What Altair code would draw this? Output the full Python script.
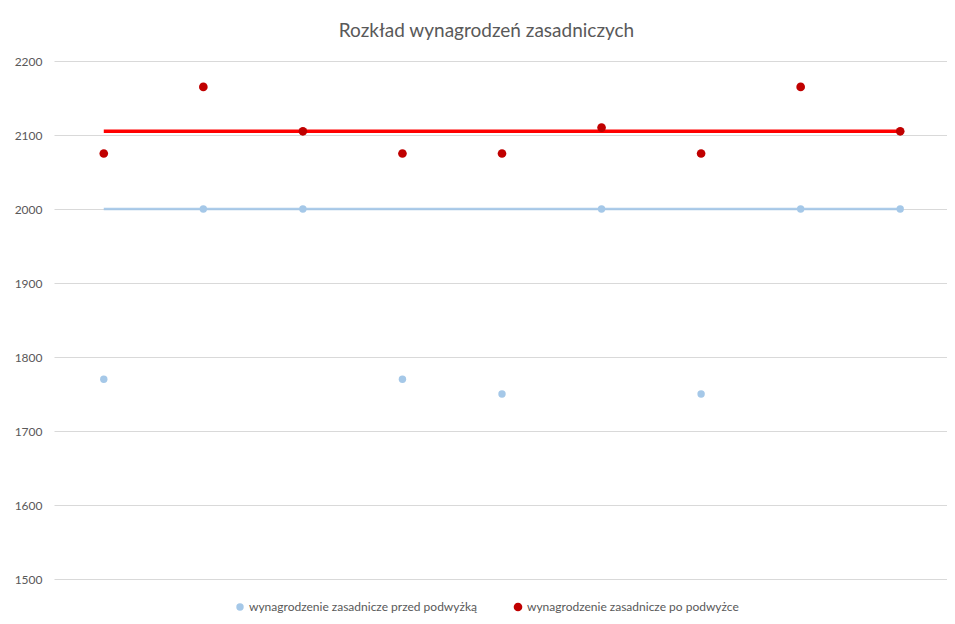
import altair as alt
import pandas as pd

# ---- data ----
idx = [1, 2, 3, 4, 5, 6, 7, 8, 9]
before = [1770, 2000, 2000, 1770, 1750, 2000, 1750, 2000, 2000]
after = [2075, 2165, 2105, 2075, 2075, 2110, 2075, 2165, 2105]
series = ["wynagrodzenie zasadnicze przed podwyżką", "wynagrodzenie zasadnicze po podwyżce"]
line_before = 2000
line_after = 2105
y_ticks = [1500, 1600, 1700, 1800, 1900, 2000, 2100, 2200]
title = "Rozkład wynagrodzeń zasadniczych"

FONT = "Lato"
GREY = "#595959"

pts = pd.DataFrame({
    "x": idx + idx,
    "y": before + after,
    "s": [series[0]] * len(idx) + [series[1]] * len(idx),
})
lb = pd.DataFrame({"x": [idx[0], idx[-1]], "y": [line_before, line_before]})
la = pd.DataFrame({"x": [idx[0], idx[-1]], "y": [line_after, line_after]})

xs = alt.Scale(domain=[0.5, 9.47], nice=False, zero=False)
ys = alt.Scale(domain=[1500, 2200], nice=False, zero=False)
yaxis = alt.Axis(values=y_ticks, title=None, ticks=False, domain=False, format="d",
                 labelFontSize=12, labelColor=GREY, labelFont=FONT, labelPadding=12,
                 gridColor="#d9d9d9", gridWidth=1)

base_x = alt.X("x:Q", scale=xs, axis=None)

line_b = alt.Chart(lb).mark_line(color="#9DC3E6", strokeWidth=2.5, opacity=0.85).encode(
    x=base_x, y=alt.Y("y:Q", scale=ys, axis=yaxis))
line_a = alt.Chart(la).mark_line(color="#FF0000", strokeWidth=3.5).encode(
    x=base_x, y=alt.Y("y:Q", scale=ys))

points = alt.Chart(pts).mark_circle(opacity=1).encode(
    x=base_x,
    y=alt.Y("y:Q", scale=ys),
    color=alt.Color("s:N", scale=alt.Scale(domain=series, range=["#A5C8E8", "#C00000"]),
                    legend=alt.Legend(title=None, orient="none", direction="horizontal",
                                      legendX=180, legendY=540, symbolSize=36,
                                      symbolType="circle", labelFontSize=12,
                                      labelColor=GREY, labelFont=FONT, labelLimit=400,
                                      labelOffset=3, columnPadding=35)),
    size=alt.Size("s:N", scale=alt.Scale(domain=series, range=[55, 75]), legend=None),
)

chart = alt.layer(line_b, line_a, points).properties(
    width=893, height=518,
    title=alt.TitleParams(title, fontSize=19, font=FONT, fontWeight="normal",
                          color=GREY, anchor="middle", dx=-14, offset=14),
    autosize=alt.AutoSizeParams(type="none"),
    padding={"left": 46, "top": 53, "right": 0, "bottom": 37},
).configure_view(stroke=None)

chart.save("out.html", embed_options={"renderer": "svg", "actions": False})
